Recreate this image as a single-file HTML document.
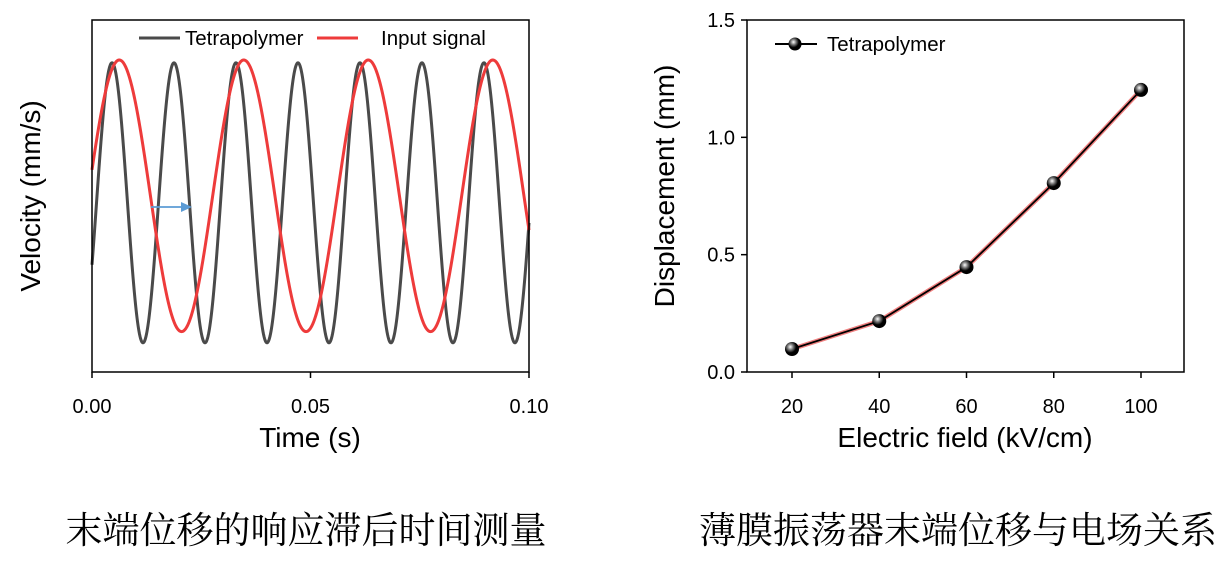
<!DOCTYPE html>
<html><head><meta charset="utf-8"><style>
body{margin:0;background:#fff;width:1232px;height:568px;overflow:hidden}
svg text{font-family:"Liberation Sans",Arial,sans-serif}
</style></head><body>
<svg width="1232" height="568">
<g id="left"></g>
<g id="right"></g>
<text x="306" y="543" text-anchor="middle" font-size="37" style="font-family:'Liberation Serif','Noto Serif CJK SC',serif">末端位移的响应滞后时间测量</text>
<text x="958" y="543" text-anchor="middle" font-size="37" style="font-family:'Liberation Serif','Noto Serif CJK SC',serif">薄膜振荡器末端位移与电场关系</text>
</svg>
<script>
// Left chart data
const seriesNames=["Tetrapolymer","Input signal"];
const freqHz=[70.5,35.1];
const peakTime=[0.00458,0.00625];
const amplitude=[1.0,0.97];
const offset=[-0.02,0.03];
const timeTicks=[0,0.05,0.1];
const timeTickLabels=["0.00","0.05","0.10"];
// Right chart data
const fields=[20,40,60,80,100];
const displacement=[0.098,0.217,0.447,0.805,1.202];
const fieldTicks=[20,40,60,80,100];
const dispTicks=[0,0.5,1.0,1.5];
const dispTickLabels=["0.0","0.5","1.0","1.5"];

const NS="http://www.w3.org/2000/svg";
function mk(p,t,a,txt){const e=document.createElementNS(NS,t);for(const k in a)e.setAttribute(k,a[k]);if(txt!=null)e.textContent=txt;p.appendChild(e);return e;}
const L=document.getElementById('left'),R=document.getElementById('right');
const lx0=92,lx1=529,ly0=20,ly1=372;
const tx=t=>lx0+t/0.1*(lx1-lx0);
const vy=v=>200-v*140;
const colors=["#4a4a4a","#ee3b3b"];
for(let s=0;s<2;s++){
 let d="";
 for(let i=0;i<=874;i++){const t=i/874*0.1;const v=offset[s]+amplitude[s]*Math.cos(2*Math.PI*freqHz[s]*(t-peakTime[s]));d+=(i?"L":"M")+tx(t).toFixed(2)+","+vy(v).toFixed(2);}
 const p=mk(L,'path',{d:d,fill:'none',stroke:colors[s],'stroke-width':3});
 
 
}
const fr=mk(L,'rect',{x:lx0,y:ly0,width:lx1-lx0,height:ly1-ly0,fill:'none',stroke:'#000','stroke-width':1.5});

timeTicks.forEach((t,i)=>{mk(L,'line',{x1:tx(t),x2:tx(t),y1:ly1,y2:ly1+6,stroke:'#000','stroke-width':1.5});
 const e=mk(L,'text',{x:tx(t),y:413,'text-anchor':'middle','font-size':20},timeTickLabels[i]);
 });
let e=mk(L,'text',{x:310,y:447,'text-anchor':'middle','font-size':28},'Time (s)');
e=mk(L,'text',{x:0,y:0,'text-anchor':'middle','font-size':28,transform:'translate(40,196) rotate(-90)'},'Velocity (mm/s)');
e=mk(L,'g',{});
mk(e,'line',{x1:151,y1:207,x2:188,y2:207,stroke:'#5b9bd5','stroke-width':1.8});
mk(e,'path',{d:'M181,202 L192,207 L181,212 Z',fill:'#5b9bd5'});
e=mk(L,'g',{});
mk(e,'line',{x1:139,x2:180,y1:38,y2:38,stroke:colors[0],'stroke-width':3});
mk(e,'text',{x:185,y:45,'font-size':20.5},seriesNames[0]);
mk(e,'line',{x1:317,x2:358,y1:38,y2:38,stroke:colors[1],'stroke-width':3});
mk(e,'text',{x:381,y:45,'font-size':20.5},seriesNames[1]);

const rx0=747,rx1=1184,ry0=20,ry1=372;
const fx=f=>792+(f-20)*(1141-792)/80;
const dy=v=>ry1-v*(ry1-ry0)/1.5;
let pd="";fields.forEach((f,i)=>pd+=(i?"L":"M")+fx(f)+","+dy(displacement[i]));
mk(R,'path',{d:pd,fill:'none',stroke:'#f08080','stroke-width':4.5,'stroke-linejoin':'round'});
e=mk(R,'path',{d:pd,fill:'none',stroke:'#000','stroke-width':1.8});
const defs=mk(R,'defs',{});const g=mk(defs,'radialGradient',{id:'ball',cx:'0.38',cy:'0.35',r:'0.6'});
mk(g,'stop',{offset:'0','stop-color':'#fff'});mk(g,'stop',{offset:'0.35','stop-color':'#777'});mk(g,'stop',{offset:'0.7','stop-color':'#000'});mk(g,'stop',{offset:'1','stop-color':'#000'});
fields.forEach((f,i)=>{const c=mk(R,'circle',{cx:fx(f),cy:dy(displacement[i]),r:7,fill:'url(#ball)'});
 });
e=mk(R,'rect',{x:rx0,y:ry0,width:rx1-rx0,height:ry1-ry0,fill:'none',stroke:'#000','stroke-width':1.5});
fieldTicks.forEach(f=>{mk(R,'line',{x1:fx(f),x2:fx(f),y1:ry1,y2:ry1+6,stroke:'#000','stroke-width':1.5});
 const t=mk(R,'text',{x:fx(f),y:413,'text-anchor':'middle','font-size':20},String(f));});
dispTicks.forEach((v,i)=>{mk(R,'line',{x1:rx0-6,x2:rx0,y1:dy(v),y2:dy(v),stroke:'#000','stroke-width':1.5});
 const t=mk(R,'text',{x:735,y:dy(v)+7,'text-anchor':'end','font-size':20},dispTickLabels[i]);});
e=mk(R,'text',{x:965,y:447,'text-anchor':'middle','font-size':28},'Electric field (kV/cm)');
e=mk(R,'text',{x:0,y:0,'text-anchor':'middle','font-size':28,transform:'translate(674,186) rotate(-90)'},'Displacement (mm)');
e=mk(R,'g',{});
mk(e,'line',{x1:775,x2:817,y1:44,y2:44,stroke:'#000','stroke-width':2});
mk(e,'circle',{cx:795,cy:44,r:6.5,fill:'url(#ball)'});
mk(e,'text',{x:827,y:51,'font-size':20.5},'Tetrapolymer');
</script>
</body></html>
